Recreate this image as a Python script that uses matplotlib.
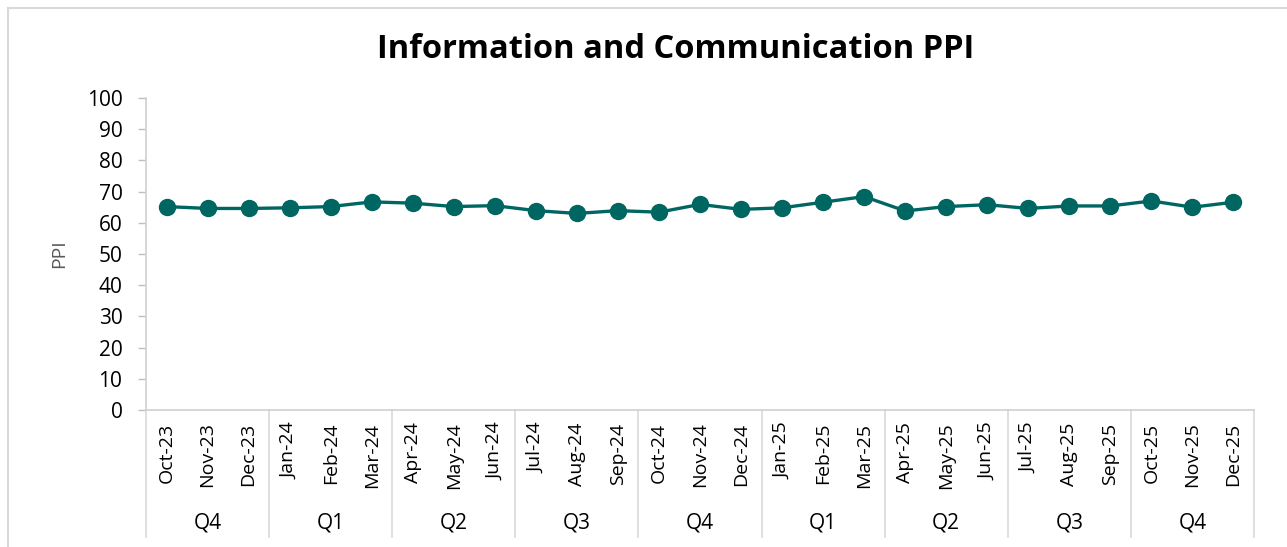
import matplotlib
matplotlib.use("Agg")
import matplotlib.pyplot as plt
from matplotlib.lines import Line2D
import matplotlib.transforms as mtransforms

months = ["Oct-23", "Nov-23", "Dec-23", "Jan-24", "Feb-24", "Mar-24", "Apr-24", "May-24", "Jun-24",
          "Jul-24", "Aug-24", "Sep-24", "Oct-24", "Nov-24", "Dec-24", "Jan-25", "Feb-25", "Mar-25",
          "Apr-25", "May-25", "Jun-25", "Jul-25", "Aug-25", "Sep-25", "Oct-25", "Nov-25", "Dec-25"]
ppi = [65.2, 64.6, 64.6, 64.8, 65.2, 66.7, 66.3, 65.2, 65.5,
       63.9, 63.0, 63.9, 63.4, 65.9, 64.3, 64.8, 66.6, 68.4,
       63.8, 65.2, 65.8, 64.6, 65.4, 65.4, 67.0, 65.0, 66.6]
quarters = ["Q4", "Q1", "Q2", "Q3", "Q4", "Q1", "Q2", "Q3", "Q4"]
months_per_quarter = 3
yticks = list(range(0, 101, 10))

plt.rcParams['font.family'] = ['Open Sans', 'DejaVu Sans']

W, H = 1287, 547
fig = plt.figure(figsize=(W / 100, H / 100), dpi=100)
ax = fig.add_axes([146 / W, 1 - 410 / H, (1254 - 146) / W, (410 - 98) / H])

x = list(range(len(months)))
teal = "#006662"
ax.plot(x, ppi, color=teal, linewidth=2.4, marker="o", markersize=11.5,
        markerfacecolor=teal, markeredgecolor=teal, zorder=3)

ax.set_xlim(-0.5, len(months) - 0.5)
ax.set_ylim(0, 100)
ax.set_yticks(yticks)
ax.set_yticklabels([str(v) for v in yticks], fontsize=15, color="#000000")
ax.tick_params(axis="y", length=6, width=1, color="#BFBFBF", pad=11)

ax.set_xticks(x)
ax.set_xticklabels(months, rotation=90, fontsize=14, color="#000000", va="top")
ax.tick_params(axis="x", length=0, pad=9)

for s in ["top", "right"]:
    ax.spines[s].set_visible(False)
for s in ["left", "bottom"]:
    ax.spines[s].set_color("#D0D0D0")
    ax.spines[s].set_linewidth(1.2)

ax.set_ylabel("PPI", fontsize=14, color="#595959", labelpad=13)

# multi-level category axis
trans = mtransforms.blended_transform_factory(ax.transData, ax.transAxes)
y_bottom = -(537 - 410) / (410 - 98)
y_q = -(523 - 410) / (410 - 98)
for i in range(len(quarters) + 1):
    xb = i * months_per_quarter - 0.5
    ax.add_line(Line2D([xb, xb], [0, y_bottom], transform=trans, color="#D9D9D9",
                       linewidth=1.2, clip_on=False))
for i, q in enumerate(quarters):
    xc = i * months_per_quarter + (months_per_quarter - 1) / 2
    ax.text(xc, y_q, q, transform=trans, ha="center", va="center", fontsize=15, color="#000000")

fig.text(676 / W, 1 - 49 / H, "Information and Communication PPI",
         ha="center", va="center", fontsize=23.5, fontweight="bold", color="#000000")

# chart border (left and top visible)
fig.add_artist(Line2D([8 / W, 8 / W], [0, 1 - 7.5 / H], transform=fig.transFigure,
                      color="#D9D9D9", linewidth=1.5))
fig.add_artist(Line2D([8 / W, 1], [1 - 7.5 / H, 1 - 7.5 / H], transform=fig.transFigure,
                      color="#D9D9D9", linewidth=1.5))

fig.savefig("out.png", dpi=100)
